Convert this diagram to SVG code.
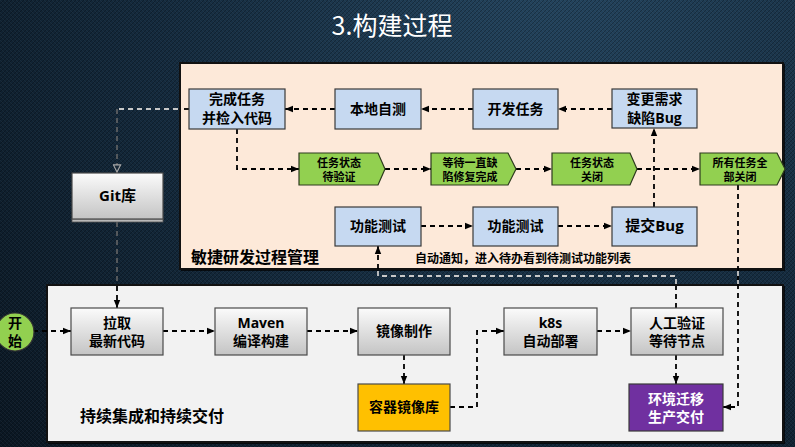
<svg xmlns="http://www.w3.org/2000/svg" width="795" height="447" viewBox="0 0 795 447">
  <defs>
    <radialGradient id="bg" cx="560" cy="-40" r="820" gradientUnits="userSpaceOnUse">
      <stop offset="0" stop-color="#24455f"/>
      <stop offset="0.5" stop-color="#142a3d"/>
      <stop offset="1" stop-color="#08121c"/>
    </radialGradient>
    <pattern id="weave" width="4" height="4" patternUnits="userSpaceOnUse">
      <path d="M0,4 L4,0" stroke="#000" stroke-opacity="0.25" stroke-width="1"/>
      <path d="M0,0 L4,4" stroke="#fff" stroke-opacity="0.04" stroke-width="1"/>
    </pattern>
    <linearGradient id="grayBox" x1="0" y1="0" x2="0" y2="1">
      <stop offset="0" stop-color="#fbfbfb"/>
      <stop offset="1" stop-color="#c4c4c4"/>
    </linearGradient>
    <marker id="ah" viewBox="0 0 10 10" refX="10" refY="5" markerWidth="8" markerHeight="8" orient="auto" markerUnits="userSpaceOnUse">
      <path d="M0,1 L10,5 L0,9 z" fill="#000"/>
    </marker>
    <marker id="ahOpen" viewBox="0 0 10 10" refX="10" refY="5" markerWidth="9" markerHeight="9" orient="auto" markerUnits="userSpaceOnUse">
      <path d="M1,1 L9,5 L1,9 z" fill="#1a2a38" stroke="#aaa" stroke-width="1.2"/>
    </marker>
    <style>
      text { font-family: "Open Sans", "Noto Sans CJK SC", sans-serif; font-weight: bold; fill: #000; text-anchor: middle; }
      .title { font-family: "Noto Sans CJK SC", sans-serif; font-weight: normal; fill: #fff; font-size: 25px; }
      .blue { fill: #c6d9f1; stroke: #3a3a3a; stroke-width: 1.2; }
      .gray { fill: url(#grayBox); stroke: #4a4a4a; stroke-width: 1.2; }
      .green { fill: #92d050; stroke: #2d3a1e; stroke-width: 1.2; }
      .t14 { font-size: 14px; }
      .t11 { font-size: 11px; }
      .lbl { font-size: 16px; text-anchor: start; }
      .wire { fill: none; stroke: #000; stroke-width: 1.8; stroke-dasharray: 5,4; }
      .wireLight { fill: none; stroke: #c8c8c8; stroke-width: 1.8; stroke-dasharray: 5,4; }
      .wireDim { fill: none; stroke: #6a6a6a; stroke-width: 1.5; stroke-dasharray: 5,4; }
    </style>
  </defs>

  <!-- backdrop -->
  <rect width="795" height="447" fill="url(#bg)"/>
  <rect width="795" height="447" fill="url(#weave)"/>

  <text class="title" x="392" y="35">3.构建过程</text>

  <!-- panels -->
  <g id="panel-agile">
    <rect x="181" y="64" width="604" height="207" fill="#000" opacity="0.7"/>
    <rect x="180" y="63" width="603" height="206" fill="#fde9d9" stroke="#111" stroke-width="2"/>
    <text class="lbl" x="191" y="263">敏捷研发过程管理</text>
  </g>
  <g id="panel-ci">
    <rect x="48" y="286" width="737" height="158" fill="#000" opacity="0.7"/>
    <rect x="47" y="285" width="736" height="157" fill="#f2f2f2" stroke="#111" stroke-width="2"/>
    <text class="lbl" x="80" y="422">持续集成和持续交付</text>
  </g>

  <!-- connectors -->
  <g id="connectors">
    <path class="wire" d="M335,109 H285" marker-end="url(#ah)"/>
    <path class="wire" d="M473,109 H421" marker-end="url(#ah)"/>
    <path class="wire" d="M612,109 H558" marker-end="url(#ah)"/>
    <path class="wire" d="M237,129 V169 H299" marker-end="url(#ah)"/>
    <path class="wire" d="M385,169 H431" marker-end="url(#ah)"/>
    <path class="wire" d="M516,169 H552" marker-end="url(#ah)"/>
    <path class="wire" d="M637,169 H700" marker-end="url(#ah)"/>
    <path class="wire" d="M654,207 V128" marker-end="url(#ah)"/>
    <path class="wire" d="M421,226 H473" marker-end="url(#ah)"/>
    <path class="wire" d="M558,226 H612" marker-end="url(#ah)"/>
    <path class="wire" d="M738,185 V407 H723" marker-end="url(#ah)"/>
    <path class="wireLight" d="M738,271 V284"/>
    <path class="wire" d="M189,109 H180"/>
    <path class="wireLight" d="M178,109 H117"/>
    <path class="wireDim" d="M117,109 V173" marker-end="url(#ahOpen)"/>
    <path class="wireDim" d="M117,222 V285"/>
    <path class="wire" d="M117,286 V308" marker-end="url(#ah)"/>
    <path class="wire" d="M33,331 H71" marker-end="url(#ah)"/>
    <path class="wire" d="M163,331 H215" marker-end="url(#ah)"/>
    <path class="wire" d="M307,331 H358" marker-end="url(#ah)"/>
    <path class="wire" d="M404,355 V384" marker-end="url(#ah)"/>
    <path class="wire" d="M450,407 H477 V331 H504" marker-end="url(#ah)"/>
    <path class="wire" d="M597,331 H631" marker-end="url(#ah)"/>
    <path class="wire" d="M676,355 V384" marker-end="url(#ah)"/>
    <path class="wire" d="M676,308 V286"/>
    <path class="wireLight" d="M676,284 V276 H378 V271"/>
    <path class="wire" d="M378,269 V246" marker-end="url(#ah)"/>
  </g>

  <!-- agile process nodes -->
  <g id="n-commit"><rect class="blue" x="189" y="89" width="96" height="40"/><text class="t14" x="237" y="104">完成任务</text><text class="t14" x="237" y="123">并检入代码</text></g>
  <g id="n-selftest"><rect class="blue" x="335" y="89" width="86" height="40"/><text class="t14" x="378" y="114">本地自测</text></g>
  <g id="n-dev"><rect class="blue" x="473" y="89" width="85" height="40"/><text class="t14" x="515.5" y="114">开发任务</text></g>
  <g id="n-change"><rect class="blue" x="612" y="89" width="85" height="39"/><text class="t14" x="654.5" y="104">变更需求</text><text class="t14" x="654.5" y="123">缺陷Bug</text></g>

  <g id="n-verify"><path class="green" d="M299,153 H378 L385,169 L378,185 H299 Z"/><text class="t11" x="339" y="167">任务状态</text><text class="t11" x="339" y="181">待验证</text></g>
  <g id="n-wait"><path class="green" d="M431,153 H508 L516,169 L508,185 H431 Z"/><text class="t11" x="470" y="167">等待一直缺</text><text class="t11" x="470" y="181">陷修复完成</text></g>
  <g id="n-closed"><path class="green" d="M552,153 H630 L637,169 L630,185 H552 Z"/><text class="t11" x="592" y="167">任务状态</text><text class="t11" x="592" y="181">关闭</text></g>
  <g id="n-allclosed"><path class="green" d="M700,153 H777 L785,169 L777,185 H700 Z"/><text class="t11" x="740" y="167">所有任务全</text><text class="t11" x="740" y="181">部关闭</text></g>

  <g id="n-ftest1"><rect class="blue" x="335" y="207" width="86" height="39"/><text class="t14" x="378" y="231">功能测试</text></g>
  <g id="n-ftest2"><rect class="blue" x="473" y="207" width="85" height="39"/><text class="t14" x="515.5" y="231">功能测试</text></g>
  <g id="n-bug"><rect class="blue" x="612" y="207" width="85" height="39"/><text class="t14" x="654.5" y="231" style="font-size:15px">提交Bug</text></g>

  <text x="415" y="263" style="font-size:12px;text-anchor:start">自动通知，进入待办看到待测试功能列表</text>

  <!-- repository -->
  <g id="n-git">
    <rect x="72" y="219" width="91" height="3" fill="#b8b8b8" stroke="#555" stroke-width="0.8"/>
    <rect class="gray" x="72" y="173" width="91" height="46"/>
    <text x="117.5" y="201" style="font-size:15px">Git库</text>
  </g>

  <!-- CI/CD nodes -->
  <g id="n-start"><circle cx="15" cy="332" r="19" fill="#92d050" stroke="#333" stroke-width="1.2"/><text class="t14" x="15" y="328">开</text><text class="t14" x="15" y="346">始</text></g>
  <g id="n-pull"><rect class="gray" x="71" y="308" width="92" height="47"/><text class="t14" x="117" y="328">拉取</text><text class="t14" x="117" y="346">最新代码</text></g>
  <g id="n-maven"><rect class="gray" x="215" y="308" width="92" height="47"/><text class="t14" x="261" y="328">Maven</text><text class="t14" x="261" y="346">编译构建</text></g>
  <g id="n-image"><rect class="gray" x="358" y="308" width="92" height="47"/><text class="t14" x="404" y="336">镜像制作</text></g>
  <g id="n-registry"><rect x="358" y="384" width="92" height="47" fill="#ffc000" stroke="#4a4a4a" stroke-width="1.2"/><text class="t14" x="404" y="412">容器镜像库</text></g>
  <g id="n-k8s"><rect class="gray" x="504" y="308" width="93" height="47"/><text class="t14" x="550.5" y="328">k8s</text><text class="t14" x="550.5" y="346">自动部署</text></g>
  <g id="n-manual"><rect class="gray" x="631" y="308" width="92" height="47"/><text class="t14" x="677" y="328">人工验证</text><text class="t14" x="677" y="346">等待节点</text></g>
  <g id="n-deliver"><rect x="629" y="384" width="94" height="47" fill="#7030a0" stroke="#3a3a3a" stroke-width="1.2"/><text class="t14" x="676" y="404" style="fill:#fff">环境迁移</text><text class="t14" x="676" y="422" style="fill:#fff">生产交付</text></g>
</svg>
